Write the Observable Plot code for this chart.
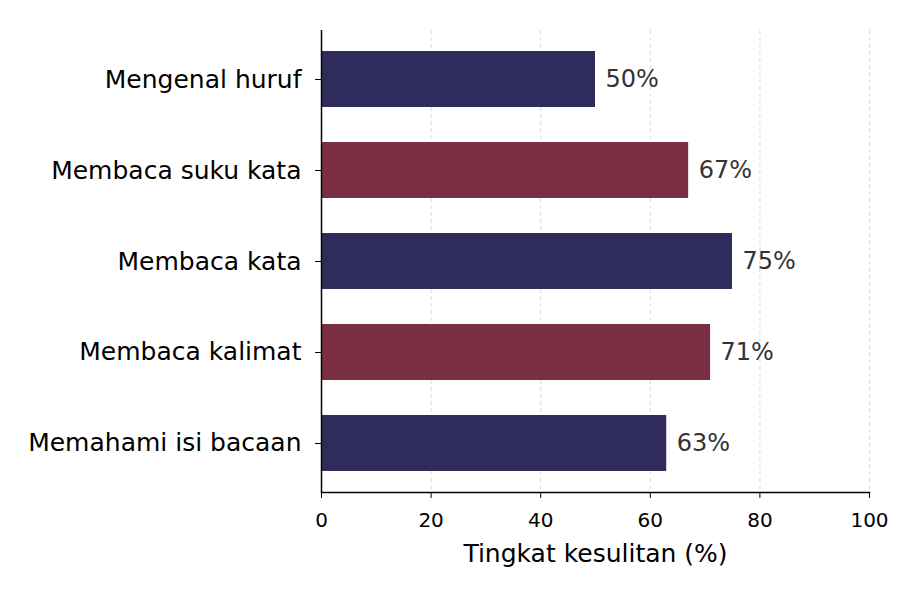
<!DOCTYPE html>
<html>
<head>
<meta charset="utf-8">
<script src="https://cdn.jsdelivr.net/npm/d3@7"></script>
<script src="https://cdn.jsdelivr.net/npm/@observablehq/plot@0.6"></script>
<style>
  html, body { margin: 0; padding: 0; background: #fff; }
  #chart { width: 920px; height: 600px; }
</style>
</head>
<body>
<div id="chart"></div>
<script>
const categories = ["Mengenal huruf", "Membaca suku kata", "Membaca kata", "Membaca kalimat", "Memahami isi bacaan"];
const values = [50, 67, 75, 71, 63];
const barColors = ["#2f2b5b", "#7a2e43", "#2f2b5b", "#7a2e43", "#2f2b5b"];
const xTicks = [0, 20, 40, 60, 80, 100];
const xLabel = "Tingkat kesulitan (%)";

const data = categories.map((c, i) => ({cat: c, value: values[i], color: barColors[i]}));

const chart = Plot.plot({
  width: 920,
  height: 600,
  marginLeft: 321,
  marginRight: 51,
  marginTop: 30,
  marginBottom: 108,
  style: {fontFamily: "DejaVu Sans", background: "#fff", color: "#000"},
  x: {domain: [0, 100], label: null},
  y: {domain: categories, paddingInner: 0.385, paddingOuter: 0.231, round: false, label: null},
  color: {type: "identity"},
  marks: [
    Plot.gridX([20, 40, 60, 80, 100], {stroke: "#d9d9d9", strokeOpacity: 1, strokeWidth: 1, strokeDasharray: "4,3"}),
    Plot.barX(data, {x: "value", y: "cat", fill: "color"}),
    Plot.text(data, {x: "value", y: "cat", text: d => d.value + "%", textAnchor: "start", dx: 10, fontSize: 24, fill: "#333"}),
    Plot.axisY({tickSize: 6, tickPadding: 14, fontSize: 25, label: null, stroke: "#000"}),
    Plot.axisX({ticks: xTicks, tickSize: 6, tickPadding: 14, fontSize: 20, label: null, stroke: "#000"}),
    Plot.ruleX([0], {stroke: "#000", strokeWidth: 1.5}),
    Plot.frame({anchor: "bottom", stroke: "#000", strokeWidth: 1.5}),
    Plot.text([xLabel], {frameAnchor: "bottom", dy: 69, fontSize: 25, fill: "#000"})
  ]
});
document.getElementById("chart").appendChild(chart);
</script>
</body>
</html>
